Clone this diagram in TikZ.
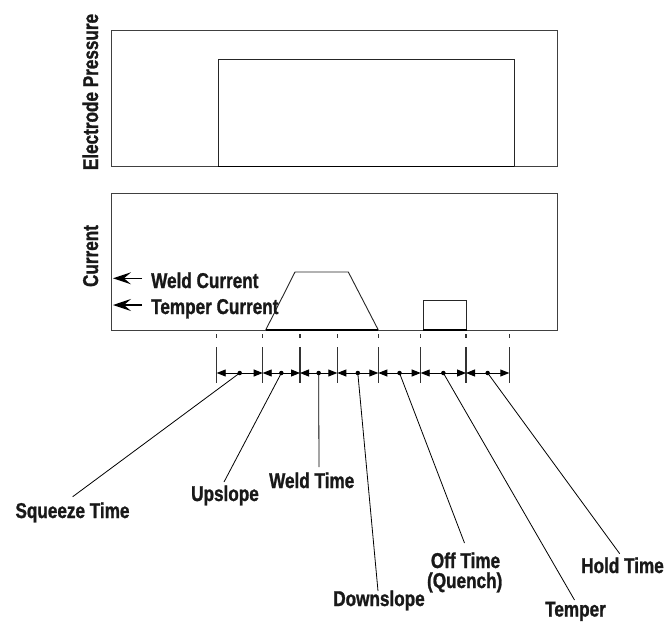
\documentclass[tikz,border=0pt]{standalone}
\usepackage{fontspec}
\newfontfamily\labfont{Liberation Sans Bold}[FakeStretch=0.8, FakeBold=1.2]
\usetikzlibrary{arrows.meta,calc}
\tikzset{
  box/.style={draw=black!75, line width=0.9bp},
  wave/.style={draw=black!85, line width=0.9bp},
  baseheavy/.style={draw=black, line width=1.6bp},
  lab/.style={font=\labfont\fontsize{21.5}{23}\selectfont, inner sep=0pt, text=black!90},
  tickline/.style={draw=black!80, line width=1.1bp},
  span/.style={line width=0.9bp, {Triangle[length=9bp,width=7bp]}-{Triangle[length=9bp,width=7bp]}},
  leader/.style={line width=0.8bp},
  dotmark/.style={circle, fill, inner sep=0pt, minimum size=4.5bp},
  levelarrow/.style={line width=1.4bp, -{Stealth[length=18bp,width=12bp,inset=7bp]}},
}
\begin{document}
\begin{tikzpicture}[x=1bp,y=-1bp]
\useasboundingbox (0,0) rectangle (667,623);

% Electrode pressure panel
\draw[box] (111,30.7) rectangle (557.3,166.7);
\draw[wave] (218,166.7) -- (218,59.3) -- (514.3,59.3) -- (514.3,166.7);
\draw[baseheavy] (218,166.7) -- (514.3,166.7);
\node[lab, rotate=90, anchor=base] (ep) at (98,92) {Electrode Pressure};

% Current panel
\draw[box] (111,193.3) rectangle (557.3,330);
\draw[wave] (265.7,330) -- (295,272) -- (348.3,272) -- (378.3,330);
\draw[wave] (423.3,330) -- (423.3,300) -- (466.7,300) -- (466.7,330);
\draw[baseheavy] (265.7,330) -- (378.3,330);
\draw[baseheavy] (423.3,330) -- (466.7,330);
\node[lab, rotate=90, anchor=base] (cur) at (98,256) {Current};

% level labels
\node[lab, anchor=base west] (wcl) at (151,288) {Weld Current};
\node[lab, anchor=base west] (tcl) at (151,314) {Temper Current};
\coordinate (wcs) at (142,278.3);
\coordinate (wce) at (113,278.3);
\coordinate (tcs) at (142,305);
\coordinate (tce) at (113,305);
\draw[levelarrow] (wcs) -- (wce);
\draw[levelarrow] (tcs) -- (tce);

% time ticks
\foreach \i/\x in {0/216.7,1/262.7,2/300,3/337.3,4/378.3,5/420.7,6/466,7/509.3}{
  \coordinate (t\i) at (\x,373);
  \draw[tickline] (\x,334) -- (\x,338);
  \draw[tickline] (\x,347) -- (\x,383);
}
\foreach \i [count=\j from 1] in {0,...,6}{
  \draw[span] (t\i) -- (t\j);
  \node[dotmark] (m\i) at ($(t\i)!0.5!(t\j)$) {};
}

% labels
\node[lab, anchor=base] (sq) at (72.5,518) {Squeeze Time};
\node[lab, anchor=base] (up) at (225,501) {Upslope};
\node[lab, anchor=base] (wt) at (311.7,488) {Weld Time};
\node[lab, anchor=base] (ds) at (379,606) {Downslope};
\node[lab, anchor=base] (ot) at (465.5,568) {Off Time};
\node[lab, anchor=base] (qu) at (464.7,588) {(Quench)};
\node[lab, anchor=base] (tp) at (575.5,616.5) {Temper};
\node[lab, anchor=base] (ht) at (622.5,573) {Hold Time};

% leader ends
\coordinate (e0) at (72.7,496.7);
\coordinate (e1) at (224,482);
\coordinate (e2) at (319,467);
\coordinate (e3) at (378,591);
\coordinate (e4) at (464.5,543);
\coordinate (e5) at (574.5,600);
\coordinate (e6) at (619.7,553.7);
\foreach \i in {0,...,6}{
  \draw[leader] (m\i.center) -- (e\i);
}
\end{tikzpicture}
\end{document}
